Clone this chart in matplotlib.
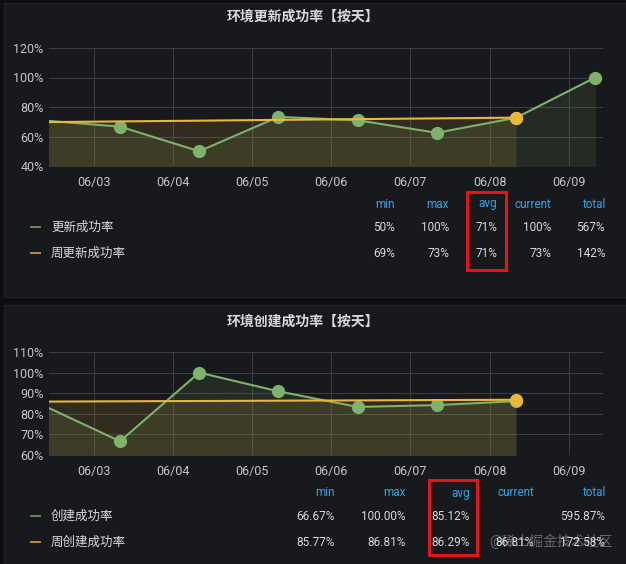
import matplotlib
matplotlib.use('Agg')
import matplotlib.pyplot as plt
import matplotlib.dates as mdates
from matplotlib.patches import Rectangle
from matplotlib.lines import Line2D
import numpy as np
import pandas as pd

plt.rcParams['font.family'] = ['Roboto', 'Noto Sans CJK SC', 'DejaVu Sans']

W, H = 626, 564

# ---- data ----
days = pd.to_datetime(['2022-06-02 08:00', '2022-06-03 08:00', '2022-06-04 08:00', '2022-06-05 08:00',
                       '2022-06-06 08:00', '2022-06-07 08:00', '2022-06-08 08:00', '2022-06-09 08:00'])
week_days = pd.to_datetime(['2022-06-01 08:00', '2022-06-08 08:00'])

update_rate = [71.0, 66.7, 50.0, 73.3, 71.0, 62.5, 72.7, 100.0]
week_update_rate = [69.2, 72.8]

create_rate = [84.62, 66.67, 100.0, 90.91, 83.33, 84.21, 86.13, np.nan]
week_create_rate = [85.77, 86.81]

stat_names = ['min', 'max', 'avg', 'current', 'total']

GREEN = '#7eb26d'
YELLOW = '#eab839'
BG = '#0e0f11'
PANEL = '#18191c'
GRID = '#3a3c40'
TEXT = '#d8d9da'
TICK = '#c4c6c9'
BLUE = '#33a2e5'
RED = '#e3141b'


def fx(x):
    return x / W


def fy(y):
    return 1 - y / H


def stats(vals, dec):
    v = np.array(vals, dtype=float)
    fmt = '{:.%df}%%' % dec
    cur = '' if np.isnan(v[-1]) else fmt.format(v[-1])
    return [fmt.format(np.nanmin(v)), fmt.format(np.nanmax(v)), fmt.format(np.nanmean(v)),
            cur, fmt.format(np.nansum(v))]


fig = plt.figure(figsize=(W / 100, H / 100), dpi=100, facecolor=BG)

# panel backgrounds
for top, bottom in [(3, 297), (305, 564)]:
    fig.add_artist(Rectangle((fx(4), fy(bottom)), fx(626 - 4), (bottom - top) / H,
                             transform=fig.transFigure, facecolor=PANEL, edgecolor='#222327', lw=0.8, zorder=0))


def draw_panel(top, bottom, title, title_y, x1, y1, x2, y2, ylim, yticks):
    ax = fig.add_axes([fx(49), fy(bottom), fx(603 - 49), (bottom - top) / H])
    ax.set_facecolor('none')
    ax.fill_between(x1, 0, y1, color=GREEN, alpha=0.12, lw=0)
    ax.fill_between(x2, 0, y2, color=YELLOW, alpha=0.12, lw=0)
    ax.plot(x1, y1, color=GREEN, lw=1.5, marker='o', ms=8.5, zorder=3)
    ax.plot(x2, y2, color=YELLOW, lw=1.5, marker='o', ms=8.5, zorder=4)
    ax.set_xlim(pd.Timestamp('2022-06-02 10:29'), pd.Timestamp('2022-06-09 10:22'))
    ax.set_ylim(*ylim)
    ax.set_yticks(yticks)
    ax.set_yticklabels(['%d%%' % t for t in yticks])
    ax.xaxis.set_major_locator(mdates.DayLocator())
    ax.xaxis.set_major_formatter(mdates.DateFormatter('%m/%d'))
    ax.grid(True, color=GRID, lw=0.8)
    ax.set_axisbelow(True)
    for s in ax.spines.values():
        s.set_visible(False)
    ax.tick_params(length=0, colors=TICK, labelsize=9)
    ax.tick_params(axis='x', pad=7)
    ax.tick_params(axis='y', pad=4)
    fig.text(fx(303), fy(title_y), title, ha='center', va='center', color=TEXT,
             fontsize=10, fontweight='bold')
    return ax


draw_panel(48, 166, '环境更新成功率【按天】', 17, days, update_rate, week_days, week_update_rate,
           (40, 120), [40, 60, 80, 100, 120])
draw_panel(352, 455, '环境创建成功率【按天】', 322, days, create_rate, week_days, week_create_rate,
           (60, 110), [60, 70, 80, 90, 100, 110])


def draw_legend(header_y, row_ys, col_x, rows):
    for name, x in zip(stat_names, col_x):
        fig.text(fx(x), fy(header_y), name, ha='right', va='center', color=BLUE, fontsize=8.5)
    for (label, color, vals), y in zip(rows, row_ys):
        fig.add_artist(Line2D([fx(31), fx(40)], [fy(y), fy(y)], color=color, lw=1.4, alpha=0.75,
                              transform=fig.transFigure))
        fig.text(fx(51), fy(y), label, ha='left', va='center', color=TEXT, fontsize=9)
        for v, x in zip(vals, col_x):
            fig.text(fx(x), fy(y), v, ha='right', va='center', color=TEXT, fontsize=8.5)


draw_legend(204, [227, 253], [395, 449, 497, 551, 605],
            [('更新成功率', GREEN, stats(update_rate, 0)),
             ('周更新成功率', YELLOW, stats(week_update_rate, 0))])
draw_legend(493, [516, 542], [335, 406, 470, 534, 605],
            [('创建成功率', GREEN, stats(create_rate, 2)),
             ('周创建成功率', YELLOW, stats(week_create_rate, 2))])

# red highlight boxes around avg columns
for x0, y0, x1, y1 in [(467, 192, 506, 270), (429, 480, 477, 555)]:
    fig.add_artist(Rectangle((fx(x0), fy(y1)), (x1 - x0) / W, (y1 - y0) / H, transform=fig.transFigure,
                             facecolor='none', edgecolor=RED, lw=2.2, zorder=10))

# watermark (overlaps the last legend row in the original screenshot too)
fig.text(fx(551), fy(541), '@稀土掘金技术社区', ha='center', va='center', color='white',
         alpha=0.35, fontsize=10, zorder=11)

fig.savefig('out.png', dpi=100, facecolor=BG)
